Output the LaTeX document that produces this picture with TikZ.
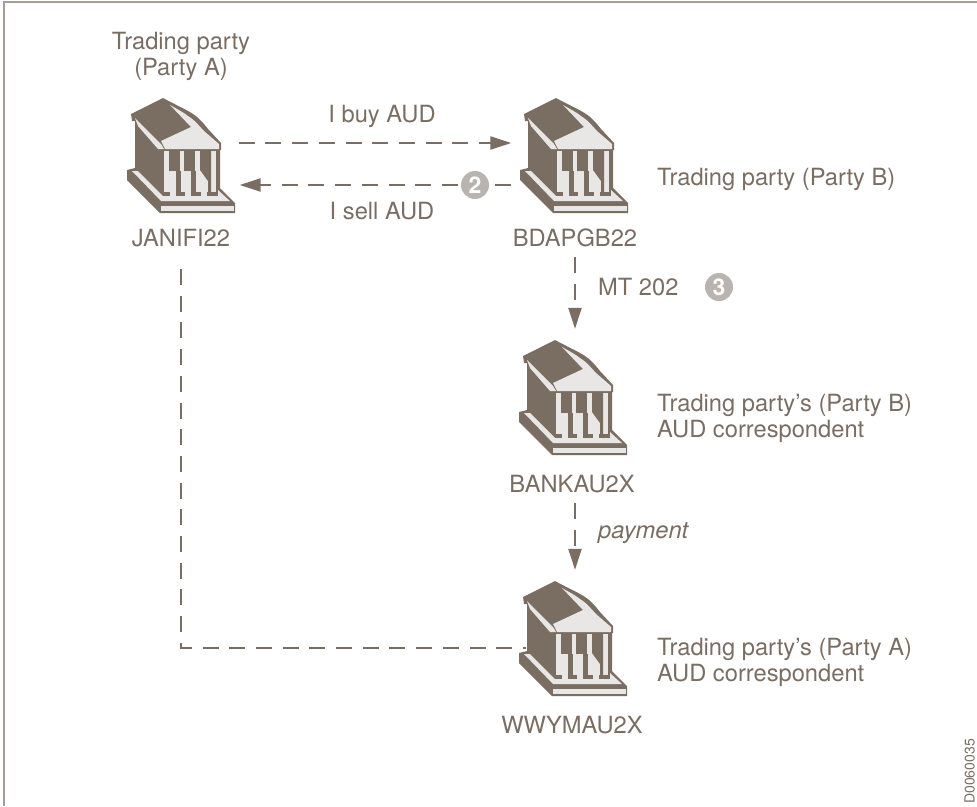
\documentclass[tikz,border=0pt]{standalone}
\usepackage{fontspec}
\setmainfont{TeX Gyre Heros}
\usetikzlibrary{arrows.meta}
\definecolor{bankdark}{HTML}{7A6E63}
\definecolor{banklight}{HTML}{E9E7E5}
\definecolor{badge}{HTML}{B9B4AF}
\definecolor{framec}{HTML}{A59D96}
\tikzset{
  x=1pt,y=-1pt,
  lbl/.style={text=bankdark,font=\fontsize{23.7}{26.5}\selectfont,inner sep=0pt},
  lblleft/.style={lbl,anchor=west,align=left},
  banknode/.style={minimum width=120pt,minimum height=137pt,inner sep=0pt},
  flow/.style={draw=bankdark,line width=2.3pt,dash pattern=on 16pt off 10.7pt,
    -{Triangle[length=21pt,width=13pt,fill=bankdark]}},
  flowplain/.style={draw=bankdark,line width=2.3pt,dash pattern=on 16pt off 10.7pt},
  numdisc/.style={circle,fill=badge,minimum size=28pt,inner sep=0pt,text=white,
    font=\fontsize{23}{23}\selectfont\bfseries},
  bank/.pic={
    \begin{scope}[shift={(-178.5,-155.5)}]
      \fill[bankdark] (163,98) .. controls (172,103) and (181,107) .. (188,111)
        .. controls (198,116) and (204,124) .. (208,129) -- (221,143) -- (221,150) -- (220,150)
        -- (220,188) -- (235,203) -- (235,213) -- (160,213) -- (127,180) -- (127,170)
        -- (135,168) -- (135,121) -- (132,121) -- (131,114) -- cycle;
      % roof light
      \fill[banklight] (170,105) .. controls (177,109) and (183,112) .. (188,116)
        .. controls (196,121) and (200,127) .. (204,131) -- (219,144) -- (219,149) -- (165,149)
        -- (161,141) -- (191,127) -- cycle;
      \fill[banklight] (135,118) -- (161,144) -- (164,149) -- (158,149) -- (138,126) -- cycle;
      % colonnade
      \fill[banklight] (164,151) rectangle (216,196);
      \fill[bankdark] (169,151) -- (180,151) -- (180,171) -- (169,171) -- cycle;
      \fill[bankdark] (184,151) -- (195,151) -- (195,171) -- (184,171) -- cycle;
      \fill[bankdark] (200,151) -- (211,151) -- (211,192) -- (208,192) -- (208,181) -- (200,170) -- cycle;
      \fill[bankdark] (176,171) rectangle (181,192);
      \fill[bankdark] (191,171) rectangle (196,192);
      % column feet
      \fill[bankdark] (161,192) rectangle (170,196);
      \fill[bankdark] (176,192) rectangle (185,196);
      \fill[bankdark] (191,192) rectangle (201,196);
      \fill[bankdark] (207,192) rectangle (217,196);
      % steps
      \fill[banklight] (132,171) -- (138,171) -- (163,196) -- (218,196) -- (218,190)
        -- (230,201) -- (161,201) -- cycle;
      \fill[banklight] (161,206) -- (234,206) -- (234,211) -- (161,211) -- cycle;
    \end{scope}
  },
}
\begin{document}
\begin{tikzpicture}
\useasboundingbox (0,0) rectangle (977,806);
\fill[white] (0,0) rectangle (977,806);
\draw[framec,line width=1.6pt] (4,806) -- (4,2) -- (977,2);

\node[banknode] (A) at (178.5,155.5) {};
\node[banknode] (B) at (571.5,155.5) {};
\node[banknode] (C) at (570.5,397.5) {};
\node[banknode] (D) at (570.5,638.5) {};
\pic at (A.center) {bank};
\pic at (B.center) {bank};
\pic at (C.center) {bank};
\pic at (D.center) {bank};

\node[lbl,align=center] (tA) at (181,56.5) {Trading party\\(Party A)};
\node[lblleft] (tB) at (657,179) {Trading party (Party B)};
\node[lblleft] (tC) at (657,418.5) {Trading party’s (Party B)\\AUD correspondent};
\node[lblleft] (tD) at (657,662.5) {Trading party’s (Party A)\\AUD correspondent};
\node[lbl] (lA) at (181,238) {JANIFI22};
\node[lbl] (lB) at (575,238) {BDAPGB22};
\node[lbl] (lC) at (572,484) {BANKAU2X};
\node[lbl] (lD) at (572,725) {WWYMAU2X};
\node[lbl] (buy) at (382,116) {I buy AUD};
\node[lbl] (sell) at (382,211) {I sell AUD};
\node[lblleft] (mt) at (598,287) {MT 202};
\node[lblleft] (pay) at (598,533) {\itshape payment};
\node[lbl,rotate=90,anchor=south west,font=\fontsize{14}{14}\selectfont] (d035) at (975,804) {D0060035};

\path (A.east) ++(0,-12.5) coordinate (a1);
\path (B.west) ++(0,-12.5) coordinate (b1);
\path (B.west) ++(0,29.5) coordinate (b2);
\path (A.east) ++(1,29.5) coordinate (a2);
\path (D.west) ++(0,9.5) coordinate (d1);

\draw[flow] (a1) -- (b1);
\draw[flow] (b2) -- (a2);
\node[numdisc] (n2) at (475,185) {2};
\draw[flow,shorten <=10pt] (lB.south) -- (lB.south |- C.north);
\node[numdisc] (n3) at (719,287) {3};
\draw[flow,shorten <=10pt] (lB.south |- lC.south) -- (lB.south |- D.north);
\draw[flowplain,shorten <=22pt,shorten >=-16pt] (lA.south) |- (d1);
\end{tikzpicture}
\end{document}
